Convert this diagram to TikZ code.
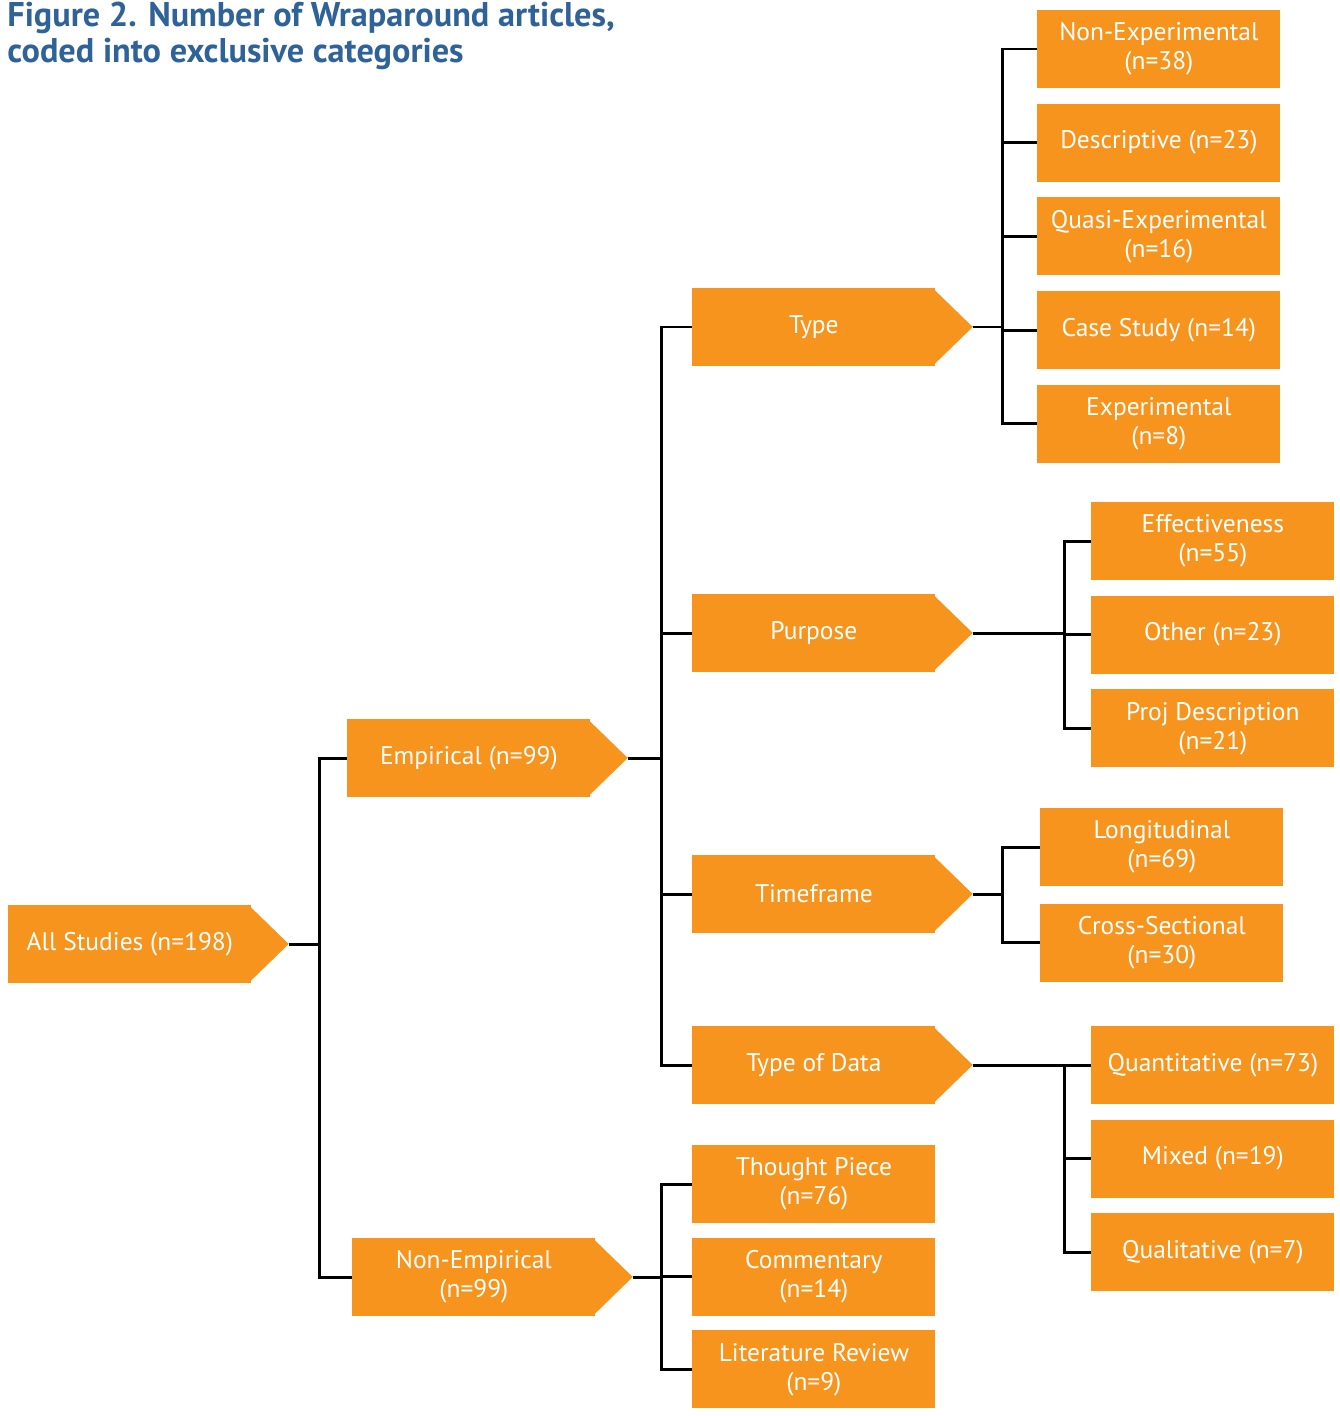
\documentclass[tikz,border=0pt]{standalone}
\usepackage{fontspec}
\setmainfont{PT Sans}
\usetikzlibrary{positioning}
\definecolor{wrapOrange}{HTML}{F7941E}
\definecolor{titleBlue}{HTML}{2F6398}
\begin{document}
\begin{tikzpicture}[
		box/.style={fill=wrapOrange,text=white,minimum width=4.86cm,minimum height=1.56cm,inner sep=0pt,align=center,font=\fontsize{14.5}{16.5}\selectfont},
		link/.style={line width=1.7pt,black}]
	\useasboundingbox (0,0) rectangle (26.78,-28.32);
	\node[anchor=north west,inner sep=0pt,align=left,text=titleBlue,font=\bfseries\fontsize{19.5}{20.5}\selectfont] (title) at (0.14,-0.04) {Figure 2. Number of Wraparound articles,\\coded into exclusive categories};
	% main levels
	\node[box,anchor=west] (all) at (0.16,-18.88) {All Studies (n=198)};
	\node[box,anchor=west] (emp) at (6.94,-15.16) {Empirical (n=99)};
	\node[box,anchor=west] (nonemp) at (7.04,-25.54) {Non-Empirical\\(n=99)};
	\node[box,anchor=west] (type) at (13.84,-6.54) {Type};
	\node[box,anchor=west] (purp) at (13.84,-12.66) {Purpose};
	\node[box,anchor=west] (time) at (13.84,-17.88) {Timeframe};
	\node[box,anchor=west] (data) at (13.84,-21.30) {Type of Data};
	\node[box,anchor=west] (thought) at (13.84,-23.68) {Thought Piece\\(n=76)};
	\node[box,below=0.28cm of thought] (comm) {Commentary\\(n=14)};
	\node[box,below=0.28cm of comm] (lit) {Literature Review\\(n=9)};
	% leaves
	\node[box,anchor=west] (nonexp) at (20.74,-0.98) {Non-Experimental\\(n=38)};
	\node[box,below=0.3cm of nonexp] (desc) {Descriptive (n=23)};
	\node[box,below=0.3cm of desc] (quasi) {Quasi-Experimental\\(n=16)};
	\node[box,below=0.3cm of quasi] (case) {Case Study (n=14)};
	\node[box,below=0.3cm of case] (exper) {Experimental\\(n=8)};
	\node[box,anchor=west] (effect) at (21.82,-10.82) {Effectiveness\\(n=55)};
	\node[box,below=0.3cm of effect] (other) {Other (n=23)};
	\node[box,below=0.3cm of other] (proj) {Proj Description\\(n=21)};
	\node[box,anchor=west] (long) at (20.80,-16.94) {Longitudinal\\(n=69)};
	\node[box,below=0.34cm of long] (cross) {Cross-Sectional\\(n=30)};
	\node[box,anchor=west] (quant) at (21.82,-21.30) {Quantitative (n=73)};
	\node[box,below=0.3cm of quant] (mixed) {Mixed (n=19)};
	\node[box,below=0.3cm of mixed] (qual) {Qualitative (n=7)};
	% arrow tips
	\foreach \n in {all,emp,nonemp,type,purp,time,data}
		\fill[wrapOrange] ([xshift=-2pt]\n.north east) -- ([xshift=0.74cm]\n.east) coordinate (\n-tip) -- ([xshift=-2pt]\n.south east) -- cycle;
	% connectors
	\foreach \c in {emp,nonemp}
		\draw[link] (all-tip) -- ++(0.62,0) |- (\c.west);
	\foreach \c in {type,purp,time,data}
		\draw[link] (emp-tip) -- ++(0.68,0) |- (\c.west);
	\foreach \c in {thought,comm,lit}
		\draw[link] (nonemp-tip) -- ++(0.58,0) |- (\c.west);
	\foreach \c in {nonexp,desc,quasi,case,exper}
		\draw[link] (type-tip) -- ++(0.6,0) |- (\c.west);
	\foreach \c in {effect,other,proj}
		\draw[link] (purp-tip) -- ++(1.84,0) |- (\c.west);
	\foreach \c in {long,cross}
		\draw[link] (time-tip) -- ++(0.6,0) |- (\c.west);
	\foreach \c in {quant,mixed,qual}
		\draw[link] (data-tip) -- ++(1.84,0) |- (\c.west);
\end{tikzpicture}
\end{document}
